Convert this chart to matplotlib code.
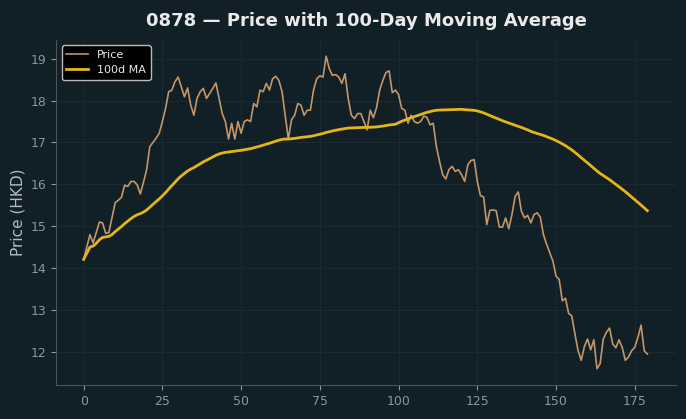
import pandas as pd
import matplotlib.pyplot as plt

# --- data ---
TICKER = "0878"
WINDOW = 100

price = [
    14.21, 14.50, 14.80, 14.60, 14.85, 15.10, 15.08, 14.83, 14.85, 15.20,
    15.56, 15.62, 15.69, 15.98, 15.95, 16.07, 16.07, 15.99, 15.77, 16.05,
    16.35, 16.90, 17.00, 17.10, 17.22, 17.50, 17.81, 18.21, 18.25, 18.45,
    18.56, 18.33, 18.09, 18.30, 17.89, 17.65, 18.05, 18.21, 18.29, 18.05,
    18.17, 18.29, 18.42, 18.05, 17.69, 17.50, 17.08, 17.46, 17.08, 17.50,
    17.22, 17.50, 17.54, 17.50, 17.93, 17.85, 18.25, 18.21, 18.41, 18.25,
    18.52, 18.58, 18.48, 18.21, 17.65, 17.08, 17.54, 17.65, 17.93, 17.89,
    17.65, 17.77, 17.77, 18.25, 18.52, 18.59, 18.56, 19.06, 18.76, 18.60,
    18.62, 18.56, 18.41, 18.64, 18.05, 17.65, 17.57, 17.69, 17.69, 17.50,
    17.30, 17.77, 17.59, 17.83, 18.25, 18.48, 18.67, 18.71, 18.19, 18.25,
    18.14, 17.81, 17.77, 17.46, 17.65, 17.50, 17.46, 17.50, 17.63, 17.60,
    17.42, 17.46, 16.90, 16.55, 16.23, 16.13, 16.35, 16.43, 16.31, 16.35,
    16.23, 16.07, 16.47, 16.57, 16.59, 16.07, 15.73, 15.70, 15.04, 15.38,
    15.39, 15.37, 14.98, 14.98, 15.20, 14.94, 15.28, 15.71, 15.82, 15.36,
    15.20, 15.26, 15.08, 15.28, 15.32, 15.22, 14.80, 14.57, 14.37, 14.17,
    13.81, 13.73, 13.22, 13.28, 12.92, 12.86, 12.43, 12.03, 11.80, 12.13,
    12.31, 12.05, 12.29, 11.60, 11.72, 12.31, 12.47, 12.57, 12.19, 12.10,
    12.29, 12.11, 11.80, 11.88, 12.03, 12.11, 12.35, 12.64, 12.03, 11.95,
]

BG = "#111f26"
TXT = "#eaeaea"
MUTED = "#8c979c"

s = pd.Series(price)
ma = s.rolling(WINDOW, min_periods=1).mean()

fig, ax = plt.subplots(figsize=(6.86, 4.19), dpi=100)
fig.patch.set_facecolor(BG)
ax.set_facecolor(BG)

ax.plot(s.index, s.values, color="#d8a46f", linewidth=1.2, alpha=0.9, label="Price")
ax.plot(ma.index, ma.values, color="#e3b51a", linewidth=2.0, label="100d MA")

ax.set_title(f"{TICKER} \u2014 Price with 100-Day Moving Average",
             color=TXT, fontsize=13, fontweight="bold", pad=10)
ax.set_ylabel("Price (HKD)", color="#b4bcc0", fontsize=11)

ax.set_xlim(-8.7, 188)
ax.set_ylim(11.2, 19.45)
ax.set_xticks([0, 25, 50, 75, 100, 125, 150, 175])
ax.tick_params(colors=MUTED, labelsize=9)
ax.grid(True, color="#1a2a31", linewidth=0.8)

for side in ("top", "right"):
    ax.spines[side].set_visible(False)
for side in ("left", "bottom"):
    ax.spines[side].set_color("#4a555a")

leg = ax.legend(loc="upper left", fontsize=8, facecolor="black",
                edgecolor="#bbbbbb", framealpha=1.0)
for t in leg.get_texts():
    t.set_color(TXT)

fig.subplots_adjust(left=0.082, right=0.985, top=0.905, bottom=0.08)
fig.savefig("out.png", dpi=100, facecolor=BG)
